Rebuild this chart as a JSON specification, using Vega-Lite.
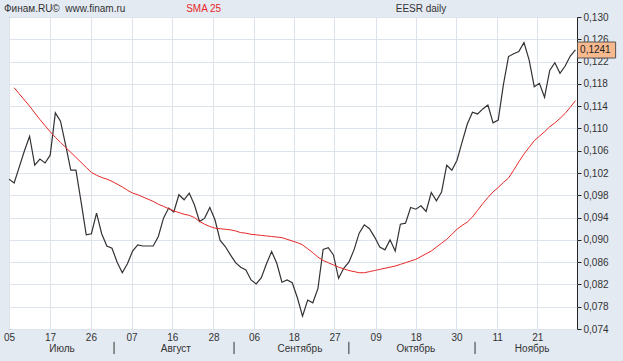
{
  "$schema": "https://vega.github.io/schema/vega-lite/v6.json",
  "width": 568,
  "height": 312,
  "autosize": {"type": "none"},
  "padding": {"left": 9, "top": 17, "right": 46, "bottom": 32},
  "background": "#E4EAF2",
  "config": {
    "view": {"fill": "#FFFFFF", "stroke": "#222222", "strokeWidth": 1},
    "text": {"font": "Liberation Sans", "fontSize": 10, "fill": "#333333"},
    "axis": {"labelFont": "Liberation Sans", "labelFontSize": 10, "labelColor": "#333333", "gridColor": "#DDE3EB", "gridOpacity": 1, "gridWidth": 1, "domain": false, "title": null, "labelOverlap": false, "labelFlush": false},
    "axisY": {"labelOverlap": false, "tickCount": 15}
  },
  "datasets": {
    "price": [
      {"t":0,"v":0.1009},{"t":1,"v":0.1002},{"t":2,"v":0.1031},{"t":3,"v":0.1060},{"t":4,"v":0.1086},
      {"t":5,"v":0.1034},{"t":6,"v":0.1045},{"t":7,"v":0.1038},{"t":8,"v":0.1052},{"t":9,"v":0.1128},
      {"t":10,"v":0.1113},{"t":11,"v":0.1070},{"t":12,"v":0.1025},{"t":13,"v":0.1025},{"t":14,"v":0.0968},
      {"t":15,"v":0.0909},{"t":16,"v":0.0911},{"t":17,"v":0.0948},{"t":18,"v":0.0911},{"t":19,"v":0.0889},
      {"t":20,"v":0.0885},{"t":21,"v":0.0860},{"t":22,"v":0.0841},{"t":23,"v":0.0857},{"t":24,"v":0.0880},
      {"t":25,"v":0.0891},{"t":26,"v":0.0889},{"t":27,"v":0.0889},{"t":28,"v":0.0889},{"t":29,"v":0.0906},
      {"t":30,"v":0.0939},{"t":31,"v":0.0957},{"t":32,"v":0.0950},{"t":33,"v":0.0981},{"t":34,"v":0.0972},
      {"t":35,"v":0.0984},{"t":36,"v":0.0963},{"t":37,"v":0.0933},{"t":38,"v":0.0939},{"t":39,"v":0.0958},
      {"t":40,"v":0.0936},{"t":41,"v":0.0899},{"t":42,"v":0.0888},{"t":43,"v":0.0873},{"t":44,"v":0.0859},
      {"t":45,"v":0.0851},{"t":46,"v":0.0846},{"t":47,"v":0.0828},{"t":48,"v":0.0821},{"t":49,"v":0.0832},
      {"t":50,"v":0.0857},{"t":51,"v":0.0879},{"t":52,"v":0.0858},{"t":53,"v":0.0824},{"t":54,"v":0.0828},
      {"t":55,"v":0.0823},{"t":56,"v":0.0796},{"t":57,"v":0.0763},{"t":58,"v":0.0792},{"t":59,"v":0.0787},
      {"t":60,"v":0.0813},{"t":61,"v":0.0883},{"t":62,"v":0.0886},{"t":63,"v":0.0873},{"t":64,"v":0.0831},
      {"t":65,"v":0.0849},{"t":66,"v":0.0860},{"t":67,"v":0.0882},{"t":68,"v":0.0912},{"t":69,"v":0.0927},
      {"t":70,"v":0.0920},{"t":71,"v":0.0905},{"t":72,"v":0.0887},{"t":73,"v":0.0882},{"t":74,"v":0.0900},
      {"t":75,"v":0.0880},{"t":76,"v":0.0928},{"t":77,"v":0.0930},{"t":78,"v":0.0958},{"t":79,"v":0.0955},
      {"t":80,"v":0.0961},{"t":81,"v":0.0951},{"t":82,"v":0.0985},{"t":83,"v":0.0970},{"t":84,"v":0.0986},
      {"t":85,"v":0.1034},{"t":86,"v":0.1025},{"t":87,"v":0.1043},{"t":88,"v":0.1076},{"t":89,"v":0.1108},
      {"t":90,"v":0.1129},{"t":91,"v":0.1126},{"t":92,"v":0.1135},{"t":93,"v":0.1142},{"t":94,"v":0.1110},
      {"t":95,"v":0.1115},{"t":96,"v":0.1178},{"t":97,"v":0.1229},{"t":98,"v":0.1234},{"t":99,"v":0.1238},
      {"t":100,"v":0.1254},{"t":101,"v":0.1223},{"t":102,"v":0.1175},{"t":103,"v":0.1181},{"t":104,"v":0.1156},
      {"t":105,"v":0.1204},{"t":106,"v":0.1218},{"t":107,"v":0.1199},{"t":108,"v":0.1212},{"t":109,"v":0.1230},
      {"t":110,"v":0.1241}
    ],
    "sma": [
      {"t":1,"v":0.1173},{"t":2,"v":0.1162},{"t":3,"v":0.1151},{"t":4,"v":0.1140},
      {"t":5,"v":0.1128},{"t":6,"v":0.1116},{"t":7,"v":0.1105},{"t":8,"v":0.1094},{"t":9,"v":0.1084},
      {"t":10,"v":0.1075},{"t":11,"v":0.1066},{"t":12,"v":0.1057},{"t":13,"v":0.1048},{"t":14,"v":0.1039},
      {"t":15,"v":0.1030},{"t":16,"v":0.1021},{"t":17,"v":0.1016},{"t":18,"v":0.1012},{"t":19,"v":0.1009},
      {"t":20,"v":0.1005},{"t":21,"v":0.1000},{"t":22,"v":0.0995},{"t":23,"v":0.0989},{"t":24,"v":0.0984},
      {"t":25,"v":0.0981},{"t":26,"v":0.0977},{"t":27,"v":0.0973},{"t":28,"v":0.0969},{"t":29,"v":0.0964},
      {"t":30,"v":0.0960},{"t":31,"v":0.0956},{"t":32,"v":0.0952},{"t":33,"v":0.0949},{"t":34,"v":0.0946},
      {"t":35,"v":0.0944},{"t":36,"v":0.0940},{"t":37,"v":0.0933},{"t":38,"v":0.0928},{"t":39,"v":0.0924},
      {"t":40,"v":0.0921},{"t":41,"v":0.0920},{"t":42,"v":0.0919},{"t":43,"v":0.0918},{"t":44,"v":0.0916},
      {"t":45,"v":0.0913},{"t":46,"v":0.0912},{"t":47,"v":0.0910},{"t":48,"v":0.0909},{"t":49,"v":0.0908},
      {"t":50,"v":0.0907},{"t":51,"v":0.0906},{"t":52,"v":0.0905},{"t":53,"v":0.0904},{"t":54,"v":0.0901},
      {"t":55,"v":0.0898},{"t":56,"v":0.0895},{"t":57,"v":0.0891},{"t":58,"v":0.0884},{"t":59,"v":0.0877},
      {"t":60,"v":0.0869},{"t":61,"v":0.0863},{"t":62,"v":0.0859},{"t":63,"v":0.0855},{"t":64,"v":0.0851},
      {"t":65,"v":0.0848},{"t":66,"v":0.0845},{"t":67,"v":0.0843},{"t":68,"v":0.0841},{"t":69,"v":0.0841},
      {"t":70,"v":0.0843},{"t":71,"v":0.0845},{"t":72,"v":0.0847},{"t":73,"v":0.0849},{"t":74,"v":0.0851},
      {"t":75,"v":0.0853},{"t":76,"v":0.0856},{"t":77,"v":0.0859},{"t":78,"v":0.0862},{"t":79,"v":0.0865},
      {"t":80,"v":0.0870},{"t":81,"v":0.0875},{"t":82,"v":0.0880},{"t":83,"v":0.0887},{"t":84,"v":0.0894},
      {"t":85,"v":0.0901},{"t":86,"v":0.0910},{"t":87,"v":0.0919},{"t":88,"v":0.0926},{"t":89,"v":0.0932},
      {"t":90,"v":0.0941},{"t":91,"v":0.0953},{"t":92,"v":0.0965},{"t":93,"v":0.0976},{"t":94,"v":0.0986},
      {"t":95,"v":0.0994},{"t":96,"v":0.1003},{"t":97,"v":0.1011},{"t":98,"v":0.1025},{"t":99,"v":0.1040},
      {"t":100,"v":0.1054},{"t":101,"v":0.1066},{"t":102,"v":0.1078},{"t":103,"v":0.1086},{"t":104,"v":0.1094},
      {"t":105,"v":0.1103},{"t":106,"v":0.1110},{"t":107,"v":0.1118},{"t":108,"v":0.1127},{"t":109,"v":0.1138},
      {"t":110,"v":0.1150}
    ],
    "months": [
      {"t":10.3,"label":"Июль"},{"t":32.4,"label":"Август"},{"t":56.5,"label":"Сентябрь"},{"t":79.0,"label":"Октябрь"},{"t":101.6,"label":"Ноябрь"}
    ],
    "seps": [
      {"t":20.4},{"t":43.7},{"t":66.0},{"t":90.5}
    ]
  },
  "layer": [
    {
      "data": {"name": "price"},
      "mark": {"type": "line", "color": "#333333", "strokeWidth": 1.2},
      "encoding": {
        "x": {"field": "t", "type": "quantitative",
          "scale": {"domain": [0, 110.3], "nice": false, "zero": false},
          "axis": {"orient": "bottom", "values": [0, 7.96, 15.9, 23.8, 31.7, 39.7, 47.6, 55.3, 63.2, 71.2, 79.0, 86.9, 94.8, 102.6],
            "labelExpr": "['05','17','26','07','16','28','06','18','27','09','18','30','11','21'][indexof([0, 7.96, 15.9, 23.8, 31.7, 39.7, 47.6, 55.3, 63.2, 71.2, 79.0, 86.9, 94.8, 102.6], datum.value)]",
            "grid": true, "ticks": false, "labelPadding": 3, "labelFlush": false, "labelOverlap": false}},
        "y": {"field": "v", "type": "quantitative",
          "scale": {"domain": [0.074, 0.130], "nice": false, "zero": false},
          "axis": {"orient": "right", "values": [0.074, 0.078, 0.082, 0.086, 0.090, 0.094, 0.098, 0.102, 0.106, 0.110, 0.114, 0.118, 0.122, 0.126, 0.130],
            "labelExpr": "replace(format(datum.value, '.3f'), '.', ',')",
            "grid": true, "ticks": true, "tickSize": 4, "tickColor": "#222222", "labelPadding": 2, "labelFlush": false, "labelOverlap": false}}
      }
    },
    {
      "data": {"name": "sma"},
      "mark": {"type": "line", "color": "#E62828", "strokeWidth": 1},
      "encoding": {
        "x": {"field": "t", "type": "quantitative"},
        "y": {"field": "v", "type": "quantitative"}
      }
    },
    {
      "data": {"name": "months"},
      "mark": {"type": "text", "align": "center", "baseline": "middle", "fontSize": 10, "fill": "#333333"},
      "encoding": {
        "x": {"field": "t", "type": "quantitative"},
        "y": {"datum": 0.0704},
        "text": {"field": "label"}
      }
    },
    {
      "data": {"name": "seps"},
      "mark": {"type": "rule", "color": "#333333", "strokeWidth": 1},
      "encoding": {
        "x": {"field": "t", "type": "quantitative"},
        "y": {"datum": 0.0717},
        "y2": {"datum": 0.0695}
      }
    },
    {
      "data": {"values": [{}]},
      "mark": {"type": "text", "align": "left", "baseline": "middle", "fontSize": 10, "fill": "#333333", "text": "Финам.RU©\u00a0\u00a0www.finam.ru"},
      "encoding": {"x": {"datum": -0.97}, "y": {"datum": 0.13144}}
    },
    {
      "data": {"values": [{}]},
      "mark": {"type": "text", "align": "left", "baseline": "middle", "fontSize": 10, "fill": "#E62828", "text": "SMA 25"},
      "encoding": {"x": {"datum": 34.4}, "y": {"datum": 0.13144}}
    },
    {
      "data": {"values": [{}]},
      "mark": {"type": "text", "align": "left", "baseline": "middle", "fontSize": 10, "fill": "#333333", "text": "EESR daily"},
      "encoding": {"x": {"datum": 75.1}, "y": {"datum": 0.13144}}
    },
    {
      "data": {"values": [{}]},
      "mark": {"type": "rect", "fill": "#F9B98E", "stroke": "#555555", "strokeWidth": 1},
      "encoding": {"x": {"datum": 110.4}, "x2": {"datum": 117.8}, "y": {"datum": 0.12551}, "y2": {"datum": 0.12264}}
    },
    {
      "data": {"values": [{}]},
      "mark": {"type": "text", "align": "left", "baseline": "middle", "fontSize": 10, "fill": "#222222", "text": "0,1241"},
      "encoding": {"x": {"datum": 110.9}, "y": {"datum": 0.12407}}
    }
  ]
}
